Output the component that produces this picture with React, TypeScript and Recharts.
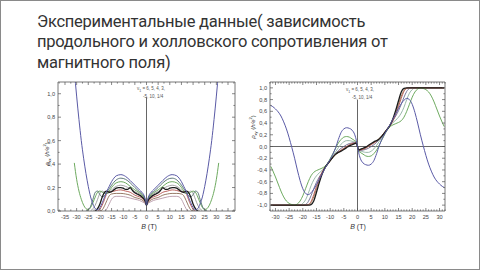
import React from "react";
import { LineChart, Line, XAxis, YAxis, ReferenceLine } from "recharts";

type Pt = [number, number];

// rho_xx (left panel), B in T
const XX_BLUE: Pt[] = [[-31,1.2],[-30,0.98],[-29,0.78],[-28,0.6],[-27,0.45],[-26,0.32],[-25,0.21],[-24,0.12],[-23,0.06],[-22,0.02],[-21,0.01],[-20,0.03],[-19,0.07],[-18,0.12],[-17,0.17],[-16,0.21],[-15,0.25],[-14,0.28],[-13,0.3],[-11,0.31],[-9,0.295],[-7,0.26],[-5,0.22],[-3,0.18],[-2,0.16],[-1,0.13],[-0.4,0.09],[0,0.05],[0.4,0.09],[1,0.13],[2,0.16],[3,0.18],[5,0.22],[7,0.26],[9,0.295],[11,0.31],[13,0.3],[14,0.28],[15,0.25],[16,0.21],[17,0.17],[18,0.12],[19,0.07],[20,0.03],[21,0.01],[22,0.02],[23,0.06],[24,0.12],[25,0.21],[26,0.32],[27,0.45],[28,0.6],[29,0.78],[30,0.98],[31,1.2]];
const XX_SLATE: Pt[] = [[-26,0],[-25,0.01],[-24,0.04],[-23,0.1],[-22,0.16],[-21,0.17],[-20,0.14],[-19,0.12],[-18,0.13],[-17,0.16],[-16,0.19],[-15,0.22],[-13,0.265],[-11,0.28],[-9,0.27],[-7,0.24],[-5,0.2],[-3,0.165],[-2,0.15],[-1,0.12],[-0.4,0.085],[0,0.05],[0.4,0.085],[1,0.12],[2,0.15],[3,0.165],[5,0.2],[7,0.24],[9,0.27],[11,0.28],[13,0.265],[15,0.22],[16,0.19],[17,0.16],[18,0.13],[19,0.12],[20,0.14],[21,0.17],[22,0.16],[23,0.1],[24,0.04],[25,0.01],[26,0]];
const XX_GREEN: Pt[] = [[-31,0.41],[-30,0.27],[-29,0.17],[-28,0.1],[-27,0.05],[-26,0.02],[-25,0.01],[-24,0.03],[-23,0.07],[-22,0.12],[-21,0.16],[-20,0.17],[-19,0.16],[-18,0.15],[-17,0.15],[-16,0.17],[-15,0.2],[-13,0.24],[-11,0.25],[-9,0.24],[-7,0.21],[-5,0.18],[-3,0.155],[-2,0.14],[-1,0.11],[-0.4,0.08],[0,0.05],[0.4,0.08],[1,0.11],[2,0.14],[3,0.155],[5,0.18],[7,0.21],[9,0.24],[11,0.25],[13,0.24],[15,0.2],[16,0.17],[17,0.15],[18,0.15],[19,0.16],[20,0.17],[21,0.16],[22,0.12],[23,0.07],[24,0.03],[25,0.01],[26,0.02],[27,0.05],[28,0.1],[29,0.17],[30,0.27],[31,0.41]];
const XX_GRAY: Pt[] = [[-24,0],[-23,0.02],[-22,0.05],[-21,0.1],[-20,0.15],[-19,0.17],[-18,0.16],[-17,0.15],[-16,0.155],[-15,0.18],[-13,0.21],[-11,0.22],[-9,0.21],[-7,0.19],[-5,0.165],[-3,0.145],[-2,0.13],[-1,0.105],[-0.4,0.08],[0,0.05],[0.4,0.08],[1,0.105],[2,0.13],[3,0.145],[5,0.165],[7,0.19],[9,0.21],[11,0.22],[13,0.21],[15,0.18],[16,0.155],[17,0.15],[18,0.16],[19,0.17],[20,0.15],[21,0.1],[22,0.05],[23,0.02],[24,0]];
const XX_BLACK: Pt[] = [[-22,0],[-21,0.02],[-20,0.06],[-19,0.12],[-18,0.16],[-17,0.17],[-16,0.16],[-15,0.165],[-14,0.18],[-13,0.195],[-12,0.2],[-11,0.2],[-10,0.195],[-9,0.185],[-8,0.185],[-7,0.2],[-6,0.175],[-5,0.155],[-4,0.145],[-3,0.135],[-2,0.12],[-1,0.1],[-0.4,0.075],[0,0.05],[0.4,0.075],[1,0.1],[2,0.12],[3,0.135],[4,0.145],[5,0.155],[6,0.175],[7,0.2],[8,0.185],[9,0.185],[10,0.195],[11,0.2],[12,0.2],[13,0.195],[14,0.18],[15,0.165],[16,0.16],[17,0.17],[18,0.16],[19,0.12],[20,0.06],[21,0.02],[22,0]];
const XX_RED: Pt[] = [[-21,0],[-20,0.015],[-19,0.05],[-18,0.1],[-17,0.15],[-16,0.165],[-15,0.165],[-13,0.175],[-11,0.18],[-9,0.17],[-7,0.16],[-5,0.135],[-3,0.12],[-2,0.11],[-1,0.09],[-0.4,0.07],[0,0.05],[0.4,0.07],[1,0.09],[2,0.11],[3,0.12],[5,0.135],[7,0.16],[9,0.17],[11,0.18],[13,0.175],[15,0.165],[16,0.165],[17,0.15],[18,0.1],[19,0.05],[20,0.015],[21,0]];
const XX_BROWN: Pt[] = [[-20,0],[-19,0.01],[-18,0.045],[-17,0.09],[-16,0.13],[-15,0.145],[-13,0.15],[-11,0.15],[-9,0.145],[-7,0.135],[-5,0.115],[-3,0.105],[-2,0.095],[-1,0.08],[-0.4,0.065],[0,0.05],[0.4,0.065],[1,0.08],[2,0.095],[3,0.105],[5,0.115],[7,0.135],[9,0.145],[11,0.15],[13,0.15],[15,0.145],[16,0.13],[17,0.09],[18,0.045],[19,0.01],[20,0]];
const XX_MAUVE: Pt[] = [[-18,0],[-17,0.02],[-16,0.06],[-15,0.1],[-14,0.12],[-13,0.125],[-11,0.125],[-9,0.12],[-7,0.11],[-5,0.1],[-3,0.09],[-2,0.08],[-1,0.07],[-0.4,0.06],[0,0.05],[0.4,0.06],[1,0.07],[2,0.08],[3,0.09],[5,0.1],[7,0.11],[9,0.12],[11,0.125],[13,0.125],[14,0.12],[15,0.1],[16,0.06],[17,0.02],[18,0]];

// rho_xy (right panel)
const XY_BLUE: Pt[] = [[-31.7,0.7],[-31,0.68],[-30,0.64],[-29,0.59],[-28,0.52],[-27,0.42],[-26,0.3],[-25,0.15],[-24,-0.02],[-23,-0.2],[-22,-0.4],[-21,-0.58],[-20,-0.72],[-19,-0.8],[-18,-0.82],[-17,-0.79],[-16,-0.73],[-15,-0.65],[-14,-0.56],[-13,-0.47],[-12,-0.38],[-11,-0.3],[-10,-0.22],[-9,-0.13],[-8,-0.02],[-7,0.12],[-6,0.24],[-5,0.3],[-4,0.32],[-3,0.31],[-2,0.28],[-1,0.2],[-0.4,0.1],[0,0],[0.4,-0.1],[1,-0.2],[2,-0.28],[3,-0.31],[4,-0.32],[5,-0.3],[6,-0.24],[7,-0.12],[8,0.02],[9,0.13],[10,0.22],[11,0.3],[12,0.38],[13,0.47],[14,0.56],[15,0.65],[16,0.73],[17,0.79],[18,0.82],[19,0.8],[20,0.72],[21,0.58],[22,0.4],[23,0.2],[24,0.02],[25,-0.15],[26,-0.3],[27,-0.42],[28,-0.52],[29,-0.59],[30,-0.64],[31,-0.68],[31.7,-0.7]];
const XY_GREEN: Pt[] = [[-31.7,-0.34],[-31,-0.41],[-30,-0.52],[-29,-0.64],[-28,-0.76],[-27,-0.86],[-26,-0.93],[-25,-0.97],[-24,-0.99],[-23,-1],[-22,-0.98],[-21,-0.93],[-20,-0.84],[-19,-0.72],[-18,-0.6],[-17,-0.5],[-16,-0.44],[-15,-0.41],[-14,-0.39],[-13,-0.37],[-12,-0.34],[-11,-0.29],[-10,-0.21],[-9,-0.12],[-8,-0.03],[-7,0.06],[-6,0.12],[-5,0.16],[-4,0.17],[-3,0.16],[-2,0.13],[-1,0.1],[-0.4,0.08],[0,0],[0.4,-0.08],[1,-0.1],[2,-0.13],[3,-0.16],[4,-0.17],[5,-0.16],[6,-0.12],[7,-0.06],[8,0.03],[9,0.12],[10,0.21],[11,0.29],[12,0.34],[13,0.37],[14,0.39],[15,0.41],[16,0.44],[17,0.5],[18,0.6],[19,0.72],[20,0.84],[21,0.93],[22,0.98],[23,1],[24,0.99],[25,0.97],[26,0.93],[27,0.86],[28,0.76],[29,0.64],[30,0.52],[31,0.41],[31.7,0.34]];
const XY_LIGHT: Pt[] = [[-31.7,-1],[-21,-1],[-20,-0.97],[-19,-0.91],[-18,-0.8],[-17,-0.67],[-16,-0.57],[-15,-0.5],[-14,-0.45],[-13,-0.41],[-12,-0.36],[-11,-0.3],[-10,-0.23],[-9,-0.16],[-8,-0.09],[-7,-0.02],[-6,0.04],[-5,0.08],[-4,0.1],[-3,0.1],[-2,0.09],[-1,0.08],[-0.4,0.08],[0,0],[0.4,-0.08],[1,-0.08],[2,-0.09],[3,-0.1],[4,-0.1],[5,-0.08],[6,-0.04],[7,0.02],[8,0.09],[9,0.16],[10,0.23],[11,0.3],[12,0.36],[13,0.41],[14,0.45],[15,0.5],[16,0.57],[17,0.67],[18,0.8],[19,0.91],[20,0.97],[21,1],[31.7,1]];
const XY_GRAY: Pt[] = [[-31.7,-1],[-20,-1],[-19,-0.99],[-18,-0.94],[-17,-0.84],[-16,-0.72],[-15,-0.61],[-14,-0.52],[-13,-0.45],[-12,-0.38],[-11,-0.31],[-10,-0.24],[-9,-0.18],[-8,-0.12],[-7,-0.07],[-6,-0.03],[-5,0],[-4,0.03],[-3,0.05],[-2,0.06],[-1,0.07],[-0.4,0.07],[0,0],[0.4,-0.07],[1,-0.07],[2,-0.06],[3,-0.05],[4,-0.03],[5,0],[6,0.03],[7,0.07],[8,0.12],[9,0.18],[10,0.24],[11,0.31],[12,0.38],[13,0.45],[14,0.52],[15,0.61],[16,0.72],[17,0.84],[18,0.94],[19,0.99],[20,1],[31.7,1]];
const XY_BROWN: Pt[] = [[-31.7,-1],[-19,-1],[-18,-0.995],[-17,-0.96],[-16,-0.86],[-15,-0.72],[-14,-0.58],[-13,-0.47],[-12,-0.38],[-11,-0.31],[-10,-0.25],[-9,-0.19],[-8,-0.14],[-7,-0.1],[-6,-0.07],[-5,-0.04],[-4,-0.01],[-3,0.02],[-2,0.04],[-1,0.05],[-0.4,0.06],[0,0],[0.4,-0.06],[1,-0.05],[2,-0.04],[3,-0.02],[4,0.01],[5,0.04],[6,0.07],[7,0.1],[8,0.14],[9,0.19],[10,0.25],[11,0.31],[12,0.38],[13,0.47],[14,0.58],[15,0.72],[16,0.86],[17,0.96],[18,0.995],[19,1],[31.7,1]];
const XY_RED: Pt[] = [[-31.7,-1],[-19,-1],[-18,-0.99],[-17,-0.94],[-16,-0.82],[-15,-0.68],[-14,-0.55],[-13,-0.44],[-12,-0.36],[-11,-0.3],[-10,-0.24],[-9,-0.18],[-8,-0.13],[-7,-0.09],[-6,-0.06],[-5,-0.03],[-4,0],[-3,0.03],[-2,0.05],[-1,0.06],[-0.4,0.07],[0,0],[0.4,-0.07],[1,-0.06],[2,-0.05],[3,-0.03],[4,0],[5,0.03],[6,0.06],[7,0.09],[8,0.13],[9,0.18],[10,0.24],[11,0.3],[12,0.36],[13,0.44],[14,0.55],[15,0.68],[16,0.82],[17,0.94],[18,0.99],[19,1],[31.7,1]];
const XY_BLACK: Pt[] = [[-31.7,-1],[-18,-1],[-17,-0.99],[-16,-0.93],[-15,-0.78],[-14,-0.62],[-13,-0.48],[-12,-0.37],[-11,-0.3],[-10,-0.24],[-9,-0.18],[-8,-0.13],[-7,-0.1],[-6,-0.08],[-5,-0.05],[-4,-0.02],[-3,0.01],[-2,0.03],[-1,0.05],[-0.4,0.06],[0,0],[0.4,-0.06],[1,-0.05],[2,-0.03],[3,-0.01],[4,0.02],[5,0.05],[6,0.08],[7,0.1],[8,0.13],[9,0.18],[10,0.24],[11,0.3],[12,0.37],[13,0.48],[14,0.62],[15,0.78],[16,0.93],[17,0.99],[18,1],[31.7,1]];

const LEFT_SERIES: [Pt[], string, number][] = [
  [XX_MAUVE, "#b898a8", 0.9],
  [XX_BROWN, "#8b6b55", 0.9],
  [XX_RED, "#b5524e", 0.9],
  [XX_GRAY, "#9a9a9a", 0.9],
  [XX_GREEN, "#5ea04e", 0.9],
  [XX_SLATE, "#4d6b6b", 0.9],
  [XX_BLACK, "#1a1a1a", 1.3],
  [XX_BLUE, "#5a5aa6", 1],
];
const RIGHT_SERIES: [Pt[], string, number][] = [
  [XY_LIGHT, "#8fb0a0", 0.9],
  [XY_GRAY, "#6a6a8c", 0.9],
  [XY_BROWN, "#9a7a50", 0.9],
  [XY_RED, "#b5524e", 0.9],
  [XY_GREEN, "#5ea04e", 0.9],
  [XY_BLACK, "#1a1a1a", 1.3],
  [XY_BLUE, "#5a5aa6", 1],
];

// ticks
const LX_MAJOR = [-35, -30, -25, -20, -15, -10, -5, 0, 5, 10, 15, 20, 25, 30, 35];
const LX_MINOR = [-37.5, -32.5, -27.5, -22.5, -17.5, -12.5, -7.5, -2.5, 2.5, 7.5, 12.5, 17.5, 22.5, 27.5, 32.5, 37.5];
const LY_MAJOR = [0, 0.2, 0.4, 0.6, 0.8, 1.0];
const LY_MINOR = [0.1, 0.3, 0.5, 0.7, 0.9];
const RX_MAJOR = [-30, -25, -20, -15, -10, -5, 0, 5, 10, 15, 20, 25, 30];
const RX_MINOR = Array.from({ length: 65 }, (_, i) => i - 32).filter(v => v % 5 !== 0);
const RY_MAJOR = [-1.0, -0.8, -0.6, -0.4, -0.2, 0, 0.2, 0.4, 0.6, 0.8, 1.0];
const RY_MINOR = [-0.9, -0.7, -0.5, -0.3, -0.1, 0.1, 0.3, 0.5, 0.7, 0.9];

const AX = "#555";
const TXT = "#444";
const FONT = "'Liberation Sans', Arial, sans-serif";

const isIn = (arr: number[], v: number) => arr.some(a => Math.abs(a - v) < 1e-6);
const fmtY = (v: number) => v.toFixed(1).replace(".", ",");

function EdgeTick(props: any) {
  const { x, y, payload, majors, side, label } = props;
  const v = payload.value;
  const len = isIn(majors, v) ? 3 : 1.6;
  const showLabel = label && isIn(majors, v);
  if (side === "bottom")
    return (
      <g>
        <line x1={x} y1={y} x2={x} y2={y - len} stroke={AX} strokeWidth={0.7} />
        {showLabel && (
          <text x={x} y={y + 8} textAnchor="middle" fontSize={5.6} fill={TXT} fontFamily={FONT}>
            {v}
          </text>
        )}
      </g>
    );
  if (side === "top")
    return <line x1={x} y1={y} x2={x} y2={y + len} stroke={AX} strokeWidth={0.7} />;
  if (side === "left")
    return (
      <g>
        <line x1={x} y1={y} x2={x + len} y2={y} stroke={AX} strokeWidth={0.7} />
        {showLabel && (
          <text x={x - 3} y={y + 2} textAnchor="end" fontSize={5.6} fill={TXT} fontFamily={FONT}>
            {fmtY(v)}
          </text>
        )}
      </g>
    );
  return <line x1={x} y1={y} x2={x - len} y2={y} stroke={AX} strokeWidth={0.7} />;
}

const rows = (pts: Pt[]) => pts.map(([b, v]) => ({ b, v }));

function Panel(props: {
  series: [Pt[], string, number][];
  xDomain: [number, number];
  yDomain: [number, number];
  xMajor: number[];
  xMinor: number[];
  yMajor: number[];
  yMinor: number[];
  yAxisWidth: number;
  marginRight: number;
  children?: React.ReactNode;
}) {
  const xt = [...props.xMajor, ...props.xMinor].sort((a, b) => a - b);
  const yt = [...props.yMajor, ...props.yMinor].sort((a, b) => a - b);
  return (
    <LineChart width={240} height={170} margin={{ top: 6, right: props.marginRight, left: 0, bottom: 0 }}>
      <XAxis xAxisId="b" type="number" dataKey="b" domain={props.xDomain} allowDataOverflow ticks={xt} interval={0}
        height={34} tickSize={0} tickMargin={0} tickLine={false} stroke={AX} strokeWidth={0.8}
        tick={<EdgeTick majors={props.xMajor} side="bottom" label />} />
      <XAxis xAxisId="t" orientation="top" type="number" dataKey="b" domain={props.xDomain} allowDataOverflow ticks={xt} interval={0}
        height={1} tickSize={0} tickMargin={0} tickLine={false} stroke={AX} strokeWidth={0.8}
        tick={<EdgeTick majors={props.xMajor} side="top" />} />
      <YAxis yAxisId="l" type="number" domain={props.yDomain} allowDataOverflow ticks={yt} interval={0}
        width={props.yAxisWidth} tickSize={0} tickMargin={0} tickLine={false} stroke={AX} strokeWidth={0.8}
        tick={<EdgeTick majors={props.yMajor} side="left" label />} />
      <YAxis yAxisId="r" orientation="right" type="number" domain={props.yDomain} allowDataOverflow ticks={yt} interval={0}
        width={1} tickSize={0} tickMargin={0} tickLine={false} stroke={AX} strokeWidth={0.8}
        tick={<EdgeTick majors={props.yMajor} side="right" />} />
      {props.children}
      {props.series.map(([pts, color, w], i) => (
        <Line key={i} xAxisId="b" yAxisId="l" data={rows(pts)} dataKey="v" type="monotone" stroke={color}
          strokeWidth={w} dot={false} activeDot={false} isAnimationActive={false} />
      ))}
    </LineChart>
  );
}

const abs = (l: number, t: number): React.CSSProperties => ({ position: "absolute", left: l, top: t });

function YLabel({ sub, cx, cy }: { sub: string; cx: number; cy: number }) {
  return (
    <div style={{ position: "absolute", left: cx - 40, top: cy - 4, width: 80, height: 8, textAlign: "center",
      transform: "rotate(-90deg)", fontFamily: FONT, fontSize: 6, color: "#333", lineHeight: "8px", whiteSpace: "nowrap" }}>
      <i>ρ</i><sub style={{ fontSize: 4 }}>{sub}</sub> (<i>h/e</i><sup style={{ fontSize: 4 }}>2</sup>)
    </div>
  );
}

function XLabel({ cx, cy }: { cx: number; cy: number }) {
  return (
    <div style={{ position: "absolute", left: cx - 20, top: cy - 5, width: 40, textAlign: "center", fontFamily: FONT,
      fontSize: 7, color: "#333", lineHeight: "10px" }}>
      <i>B</i> (T)
    </div>
  );
}

function Note({ l, t }: { l: number; t: number }) {
  return (
    <div style={{ position: "absolute", left: l, top: t, fontFamily: FONT, fontSize: 4.5, color: "#555", lineHeight: "6px", whiteSpace: "nowrap" }}>
      <div>ν<sub style={{ fontSize: 3.5 }}>1</sub> = 6, 5, 4, 3,</div>
      <div style={{ paddingLeft: 6 }}>-5, 10, 1/4</div>
    </div>
  );
}

const TITLE = [
  "Экспериментальные данные( зависимость",
  "продольного и холловского сопротивления от",
  "магнитного поля)",
];

export default function App() {
  return (
    <div style={{ position: "absolute", left: 0, top: 0, width: 480, height: 270, boxSizing: "border-box",
      border: "1px solid #8a8a8a", background: "#fff", overflow: "hidden" }}>
      {TITLE.map((line, i) => (
        <div key={i} style={{ ...abs(36, 10.5 + i * 20.5), fontFamily: "Roboto, sans-serif", fontSize: 16.5,
          letterSpacing: -0.25, lineHeight: "20px", color: "#333", whiteSpace: "nowrap" }}>
          {line}
        </div>
      ))}
      <div style={abs(-1, 74)}>
        <Panel series={LEFT_SERIES} xDomain={[-38, 38]} yDomain={[0, 1.1]} xMajor={LX_MAJOR} xMinor={LX_MINOR}
          yMajor={LY_MAJOR} yMinor={LY_MINOR} yAxisWidth={58} marginRight={4}>
          <ReferenceLine xAxisId="b" yAxisId="l" segment={[{ x: 0, y: 0 }, { x: 0, y: 0.97 }]} stroke={AX} strokeWidth={0.9} />
        </Panel>
      </div>
      <div style={abs(239, 74)}>
        <Panel series={RIGHT_SERIES} xDomain={[-32, 32]} yDomain={[-1.1, 1.1]} xMajor={RX_MAJOR} xMinor={RX_MINOR}
          yMajor={RY_MAJOR} yMinor={RY_MINOR} yAxisWidth={30} marginRight={34}>
          <ReferenceLine xAxisId="b" yAxisId="l" y={0} stroke={AX} strokeWidth={0.9} />
          <ReferenceLine xAxisId="b" yAxisId="l" segment={[{ x: 0, y: -1.1 }, { x: 0, y: 0.8 }]} stroke={AX} strokeWidth={0.9} />
        </Panel>
      </div>
      <YLabel sub="xx" cx={44} cy={153} />
      <YLabel sub="xy" cx={250} cy={126} />
      <XLabel cx={148} cy={226} />
      <XLabel cx={357} cy={226} />
      <Note l={136} t={85} />
      <Note l={345} t={86} />
    </div>
  );
}
